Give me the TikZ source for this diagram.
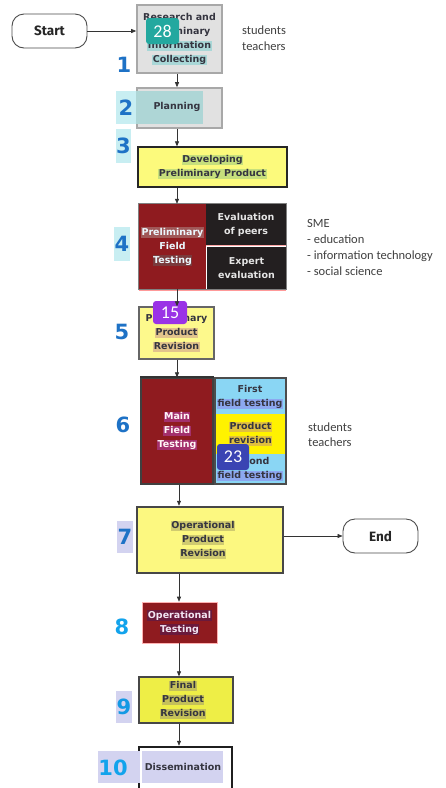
\documentclass[tikz,border=0pt]{standalone}
\usepackage{fontspec}
\setmainfont{DejaVu Sans}
\newfontfamily\sidefont{Carlito}
\newfontfamily\termfont{Fira Sans}
\usetikzlibrary{arrows.meta,calc}
\definecolor{boxgray}{HTML}{E1E1E1}
\definecolor{bordgray}{HTML}{A8A8A8}
\definecolor{txt}{HTML}{353540}
\definecolor{hlteal}{HTML}{A9D7D7}
\definecolor{hlteal2}{HTML}{AED6D6}
\definecolor{hlcyan}{HTML}{C8EEF2}
\definecolor{yel3}{HTML}{FCFA7C}
\definecolor{hlgreen}{HTML}{C6DF7C}
\definecolor{redbox}{HTML}{8F1B1F}
\definecolor{hlred}{HTML}{A05858}
\definecolor{hlred2}{HTML}{7A3A3C}
\definecolor{blackbox}{HTML}{231F20}
\definecolor{yel5}{HTML}{FDF98C}
\definecolor{hltan}{HTML}{E2C48C}
\definecolor{lblue}{HTML}{8AD6F4}
\definecolor{ybright}{HTML}{FFF200}
\definecolor{hlmag}{HTML}{A3306C}
\definecolor{hlblue}{HTML}{8CA8F0}
\definecolor{hlgold}{HTML}{E0C040}
\definecolor{yel7}{HTML}{FCF880}
\definecolor{hlkhaki}{HTML}{D0CB70}
\definecolor{hlpurple}{HTML}{D3D3F0}
\definecolor{hlred8}{HTML}{6A1A3C}
\definecolor{yel9}{HTML}{EEEE46}
\definecolor{hlolive}{HTML}{C4C05A}
\definecolor{numblue}{HTML}{1E72C6}
\definecolor{numcyan}{HTML}{12A3EC}
\definecolor{sidegray}{HTML}{404040}
\definecolor{badgeteal}{HTML}{23A89F}
\definecolor{badgepurple}{HTML}{9A33E6}
\definecolor{badgeblue}{HTML}{3A44B3}
\newcommand\hlx[2]{{\setlength{\fboxsep}{0.5pt}\colorbox{#1}{\vphantom{Ay}#2}}}
\tikzset{
  boxtxt/.style={inner sep=0pt, align=center, text=txt,
    font=\fontsize{9.5}{14}\selectfont\bfseries},
  stepbox/.style={boxtxt, draw, line width=1.2pt},
  numlabel/.style={inner sep=0pt, text=numblue,
    font=\fontsize{21}{21}\selectfont\bfseries},
  termbox/.style={draw=black!70, line width=0.9pt, rounded corners=12pt,
    fill=white, minimum width=75pt, minimum height=34pt,
    font=\termfont\bfseries\fontsize{13.5}{13.5}\selectfont, text=black!85},
  badge/.style={rounded corners=3pt, inner sep=0pt, text=white,
    font=\sidefont\fontsize{18}{18}\selectfont},
  sidetxt/.style={inner sep=0pt, anchor=west, align=left, text=sidegray,
    font=\sidefont\fontsize{12.5}{16}\selectfont},
  arr/.style={-{Triangle[length=5pt,width=4pt]}, line width=0.6pt, draw=black!80}
}
\begin{document}
\begin{tikzpicture}[x=1pt,y=-1pt]
\clip (0,0) rectangle (445,788);
\fill[white] (0,0) rectangle (445,788);
\coordinate (ax) at (177,0);
\coordinate (bx) at (179,0);

% Start
\node[termbox] (start) at (49.5,31) {Start};

% Step 1
\node[stepbox, fill=boxgray, draw=bordgray, line width=1.6pt,
  minimum width=85pt, minimum height=68pt] (b1) at (179.5,39)
  {Research and\\Preliminary\\\hlx{hlteal}{Information}\\\hlx{hlteal}{Collecting}};
\node[badge, fill=badgeteal, minimum width=33pt, minimum height=26pt] (bd28) at (162.5,31) {28};
\node[numlabel] (n1) at (124,65) {1};
\node[sidetxt] (st1) at (242,38) {students\\teachers};

% Step 2
\node[stepbox, fill=boxgray, draw=bordgray, line width=1.6pt,
  minimum width=85pt, minimum height=40pt] (b2) at (179.5,108) {};
\fill[hlteal2] (136,91) rectangle (203,124);
\node[boxtxt] (b2t) at (177,107) {Planning};
\node[numlabel, fill=hlcyan, minimum width=20pt, minimum height=33pt] (n2) at (126,107.5) {2};

% Step 3
\node[stepbox, fill=yel3, draw=black!85, line width=1.3pt,
  minimum width=149pt, minimum height=40pt] (b3) at (212.5,167)
  {\hlx{hlgreen}{Developing}\\\hlx{hlgreen}{Preliminary Product}};
\node[numlabel, fill=hlcyan, minimum width=15pt, minimum height=34pt] (n3) at (123.5,146) {3};

% Step 4
\node[boxtxt, fill=redbox, text=white!92!cyan,
  minimum width=67pt, minimum height=85pt] (b4) at (172.5,246.5)
  {\hlx{hlred}{Preliminary}\\Field\\\hlx{hlred2}{Testing}};
\node[boxtxt, fill=blackbox, text=white!90!black,
  minimum width=80pt, minimum height=41pt] (b4a) at (246,224.5)
  {Evaluation\\of peers};
\node[boxtxt, fill=blackbox, text=white!90!black,
  minimum width=79pt, minimum height=42pt] (b4b) at (246.5,268)
  {Expert\\evaluation};
\draw[black!50, line width=1.2pt] (b4.north west) rectangle (b4b.south east);
\draw[red!35, line width=0.6pt] (b4a.south west) -- (b4a.south east);
\draw[red!40, line width=0.7pt] ($(b4.south west)+(0,0.9)$) -- ($(b4b.south east)+(0,0.9)$);
\node[numlabel, fill=hlcyan, minimum width=16pt, minimum height=34pt] (n4) at (122,244) {4};
\node[sidetxt] (sme) at (307,247)
  {SME\\- education\\- information technology\\- social science};

% Step 5
\node[stepbox, fill=yel5, draw=black!60, line width=1.2pt,
  minimum width=75pt, minimum height=52pt] (b5) at (176.5,333)
  {Preliminary\\\hlx{hltan}{Product}\\\hlx{hltan}{Revision}};
\node[badge, fill=badgepurple, minimum width=34pt, minimum height=23pt] (bd15) at (170,312.5) {15};
\node[numlabel] (n5) at (122,332) {5};

% Step 6
\node[boxtxt, fill=redbox, draw=black!75, line width=1.2pt, text=white!85!pink,
  minimum width=72pt, minimum height=106pt] (b6) at (177,431)
  {\hlx{hlmag}{Main}\\\hlx{hlmag}{Field}\\\hlx{hlmag}{Testing}};
\draw[black!80, line width=2pt] (b6.north west) -- (b6.north east);
\node[boxtxt, fill=lblue, minimum width=71pt, minimum height=106pt] (b6r) at (250.5,431) {};
\node[boxtxt, fill=ybright, minimum width=70pt, minimum height=40pt] (b6b) at (250.5,434)
  {\hlx{hlgold}{Product}\\\hlx{hlgold}{revision}};
\node[boxtxt] (b6a) at (250,397) {First\\\hlx{hlblue}{field testing}};
\node[boxtxt] (b6c) at (250,469) {Second\\\hlx{hlblue}{field testing}};
\draw[black!70, line width=1.5pt] (b6r.north west) rectangle (b6r.south east);
\node[badge, fill=badgeblue, minimum width=32pt, minimum height=26pt] (bd23) at (233,457) {23};
\node[numlabel] (n6) at (123,425) {6};
\node[sidetxt, font=\sidefont\fontsize{12.5}{15}\selectfont] (st2) at (308,434.5) {students\\teachers};

% Step 7
\node[stepbox, fill=yel7, draw=black!72, line width=2.5pt,
  minimum width=146pt, minimum height=66pt] (b7) at (210,540) {};
\node[boxtxt] (b7t) at (203,540)
  {\hlx{hlkhaki}{Operational}\\\hlx{hlkhaki}{Product}\\\hlx{hlkhaki}{Revision}};
\node[numlabel, fill=hlpurple, minimum width=16pt, minimum height=32pt] (n7) at (125,537) {7};
\node[termbox] (end) at (380.5,536) {End};

% Step 8
\node[boxtxt, fill=redbox, draw=red!30, line width=0.6pt, text=white!90!violet,
  minimum width=75pt, minimum height=41pt] (b8) at (179.5,622.5)
  {\hlx{hlred8}{Operational}\\\hlx{hlred8}{Testing}};
\node[numlabel, text=numcyan] (n8) at (122,627) {8};

% Step 9
\node[stepbox, fill=yel9, draw=black!72, line width=1.3pt,
  minimum width=94pt, minimum height=46pt] (b9) at (186,700) {};
\node[boxtxt] (b9t) at (183,700)
  {\hlx{hlolive}{Final}\\\hlx{hlolive}{Product}\\\hlx{hlolive}{Revision}};
\node[numlabel, text=numcyan!80!numblue, fill=hlpurple, minimum width=16pt, minimum height=32pt] (n9) at (124,707) {9};

% Step 10
\node[stepbox, fill=white, draw=black!88, line width=2.5pt,
  minimum width=93pt, minimum height=60pt] (b10) at (185.5,777) {};
\fill[hlpurple] (142,751) rectangle (223,783);
\node[boxtxt] (b10t) at (183,767) {Dissemination};
\fill[hlpurple] (98,751) rectangle (140,783);
\node[numlabel, text=numcyan] (n10) at (113,768) {10};

% Connectors
\draw[arr] (start.east) -- (start.east -| b1.west);
\draw[arr] (b1.south -| ax) -- (b2.north -| ax);
\draw[arr] (b2.south -| ax) -- (b3.north -| ax);
\draw[arr] (b3.south -| ax) -- (b4.north -| ax);
\draw[arr] (b4.south -| ax) -- (b5.north -| ax);
\draw[arr] (b5.south -| ax) -- (b6.north -| ax);
\draw[arr] (b6.south -| bx) -- (b7.north -| bx);
\draw[arr] (end.west -| b7.east) -- (end.west);
\draw[arr] (b7.south -| bx) -- (b8.north -| bx);
\draw[arr] (b8.south -| bx) -- (b9.north -| bx);
\draw[arr] (b9.south -| bx) -- (b10.north -| bx);
\end{tikzpicture}
\end{document}
